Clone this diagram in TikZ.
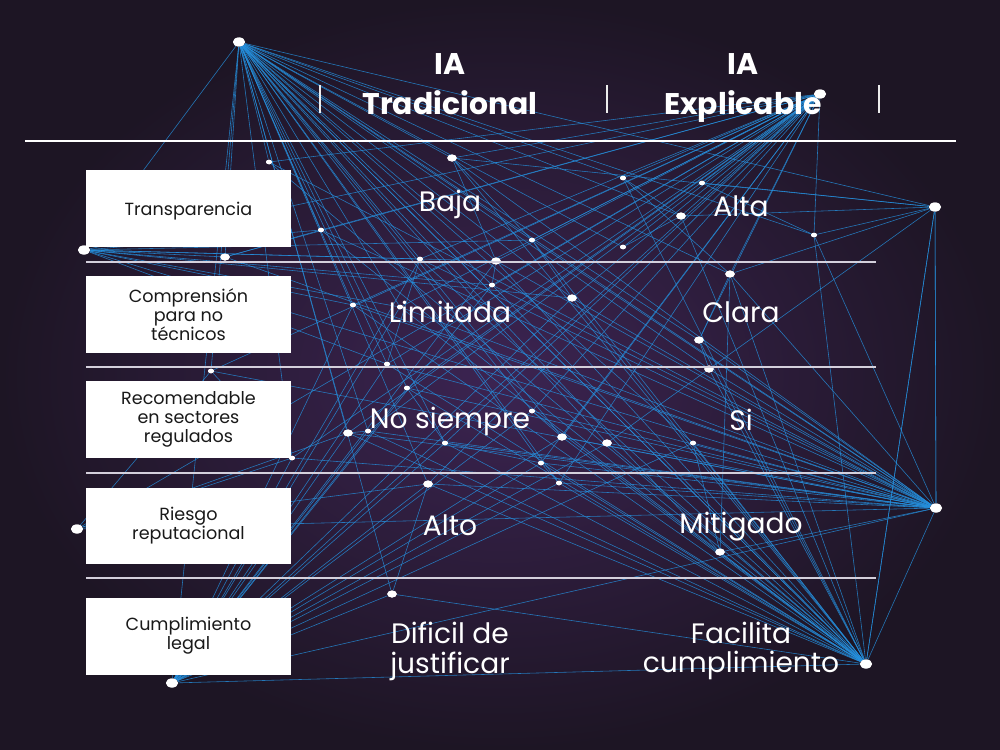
\documentclass[tikz,border=0pt]{standalone}
\usepackage{fontspec}
\setmainfont{Poppins}
\usetikzlibrary{shapes.geometric}
\definecolor{bgin}{HTML}{3C2452}
\definecolor{bgout}{HTML}{1D1524}
\definecolor{netblue}{HTML}{2590DE}
\definecolor{rowline}{HTML}{D4D0DC}
\begin{document}
\begin{tikzpicture}[x=0.02cm, y=-0.02cm,
  net/.style={netblue, line width=0.33pt, opacity=0.8},
  hub/.style={ellipse, fill=white, inner sep=0, minimum width=0.24cm, minimum height=0.18cm},
  dot/.style={ellipse, fill=white, inner sep=0, minimum width=0.19cm, minimum height=0.14cm},
  tiny/.style={ellipse, fill=white, inner sep=0, minimum width=0.12cm, minimum height=0.09cm},
  lbox/.style={fill=white, minimum width=4.1cm, minimum height=1.54cm, align=center,
    font=\fontsize{10}{10.8}\selectfont, text=black!90, execute at begin node={\rule{0pt}{10.8pt}}},
  head/.style={text=white, align=center, anchor=north, inner sep=0, font=\fontsize{17}{22.7}\selectfont\bfseries},
  val/.style={text=white, align=center, font=\fontsize{16}{17}\selectfont},
  bar/.style={white!85!gray, line width=1.1pt}]
\useasboundingbox (0,0) rectangle (1000,750);
\fill[inner color=bgin, outer color=bgout] (0,0) rectangle (1000,750);

\node[hub] (hA) at (239,42) {};
\node[hub] (hB) at (820,94) {};
\node[hub] (hC) at (936,508) {};
\node[hub] (hD) at (866,664) {};
\node[hub] (hE) at (172,683) {};
\node[hub] (hF) at (84,250) {};
\node[hub] (hG) at (935,207) {};
\node[hub] (hH) at (77,529) {};
\node[dot] (d1) at (452,158) {};
\node[tiny] (d2) at (269,162) {};
\node[tiny] (d3) at (623,178) {};
\node[tiny] (d4) at (702,183) {};
\node[dot] (d5) at (681,216) {};
\node[tiny] (d6) at (321,230) {};
\node[tiny] (d7) at (814,235) {};
\node[tiny] (d8) at (532,240) {};
\node[tiny] (d9) at (623,247) {};
\node[dot] (d10) at (225,257) {};
\node[tiny] (d11) at (420,259) {};
\node[dot] (d12) at (496,261) {};
\node[dot] (d13) at (730,274) {};
\node[tiny] (d14) at (492,285) {};
\node[dot] (d15) at (572,298) {};
\node[tiny] (d16) at (353,305) {};
\node[tiny] (d17) at (400,307) {};
\node[dot] (d18) at (699,340) {};
\node[tiny] (d19) at (387,364) {};
\node[dot] (d20) at (709,369) {};
\node[tiny] (d21) at (211,371) {};
\node[tiny] (d22) at (407,388) {};
\node[tiny] (d23) at (532,411) {};
\node[dot] (d24) at (348,433) {};
\node[tiny] (d25) at (368,431) {};
\node[tiny] (d26) at (445,443) {};
\node[dot] (d27) at (562,437) {};
\node[dot] (d28) at (607,443) {};
\node[tiny] (d29) at (693,443) {};
\node[tiny] (d30) at (541,463) {};
\node[tiny] (d31) at (292,458) {};
\node[dot] (d32) at (428,484) {};
\node[tiny] (d33) at (559,483) {};
\node[dot] (d34) at (720,552) {};
\node[dot] (d35) at (392,594) {};

\foreach \t in {hF,d2,d10,d6,d16,d21,d24,d31,d11,d12,d14,d1,d8,d15,d17,d19,d22,d25,d26,d32,d35,d23,d27,d28,d30,d33,d18,d20,d13,d34,hC,hD,hG,d7,d5,d29,hE,d9,d3}
  \draw[net] (hA) -- (\t);
\foreach \t in {hF,d10,d6,d2,d1,d11,d12,d14,d16,d17,d21,d19,d22,d24,d25,d31,d8,d9,d3,d4,d5,d7,d13,d15,d18,d26,d32,hH,hE,d23,d27,d30,d33}
  \draw[net] (hB) -- (\t);
\foreach \t in {hF,d10,d21,d16,d19,d22,d24,d25,d26,d23,d27,d28,d29,d30,d33,d32,d31,hH,d34,d18,d20,d13,d15,d7,hG,hD,d6,d2,d12,d14,d11,d17,d1,d8}
  \draw[net] (hC) -- (\t);
\foreach \t in {hA,d1,d8,d12,d14,d11,d15,d16,d19,d22,d24,d26,d32,d35,d33,d30,d27,d28,d18,d20,d13,d7,hG,d34,d29,hE,d23,d3,d5,d17,d25,d2,d6}
  \draw[net] (hD) -- (\t);
\foreach \t in {d16,d19,d22,d24,d31,d32,d23,d27,d28,d30,d33,d12,d14,d15,hC,d29,d35,d26,d25,d11,d17}
  \draw[net] (hE) -- (\t);
\foreach \t in {d10,d11,d12,d6,d15,d14,d16,d8,d19,d17}
  \draw[net] (hF) -- (\t);
\foreach \t in {d7,d13,d5,d4,hC,hD,d20,d1}
  \draw[net] (hG) -- (\t);
\foreach \t in {d31,d21,d24,d32}
  \draw[net] (hH) -- (\t);
\foreach \a/\b in {d1/d12,d1/d8,d3/d13,d4/d7,d3/d5,d13/d18,d18/d20,d20/d28,d12/d14,d11/d19,d24/d25,d22/d26,d23/d27,d26/d30,d30/d33,d32/d35,d13/d34,d29/d34,d8/d15,d6/d10,d21/d31,d5/d9}
  \draw[net] (\a) -- (\b);

\foreach \n in {hA,hB,hC,hD,hE,hF,hG,hH}
  \fill[white] (\n) ellipse (0.12cm and 0.09cm);
\foreach \n in {d1,d5,d10,d12,d13,d15,d18,d20,d24,d27,d28,d32,d34,d35}
  \fill[white] (\n) ellipse (0.095cm and 0.07cm);
\foreach \n in {d2,d3,d4,d6,d7,d8,d9,d11,d14,d16,d17,d19,d21,d22,d23,d25,d26,d29,d30,d31,d33}
  \fill[white] (\n) ellipse (0.06cm and 0.045cm);

\coordinate (hl) at (25,141);
\coordinate (hr) at (956,141);
\draw[white, line width=1.1pt] (hl) -- (hr);
\foreach \x in {320,607,879}
  \draw[bar] (\x,85) -- ++(0,28);
\foreach \y in {262,367,473,578}
  \draw[rowline, line width=0.85pt] (86,\y) -- (876,\y);

\node[head] (c1) at (450,53) {IA\\Tradicional};
\node[head] (c2) at (743,53) {IA\\Explicable};

\node[lbox] (k1) at (188.5,208.5) {Transparencia};
\node[lbox] (k2) at (188.5,314.5) {Comprensión\\para no\\técnicos};
\node[lbox] (k3) at (188.5,419.5) {Recomendable\\en sectores\\regulados};
\node[lbox] (k4) at (188.5,526) {Riesgo\\reputacional};
\node[lbox] (k5) at (188.5,636) {Cumplimiento\\legal};

\node[val] (v11) at (450,204) {Baja};
\node[val] (v12) at (741,206) {Alta};
\node[val] (v21) at (450,312) {Limitada};
\node[val] (v22) at (741,312) {Clara};
\node[val] (v31) at (450,421) {No siempre};
\node[val] (v32) at (741,420) {Si};
\node[val] (v41) at (450,525) {Alto};
\node[val] (v42) at (741,527) {Mitigado};
\node[val] (v51) at (450,651) {Dificil de\\justificar};
\node[val] (v52) at (741,651) {Facilita\\cumplimiento};
\end{tikzpicture}
\end{document}
